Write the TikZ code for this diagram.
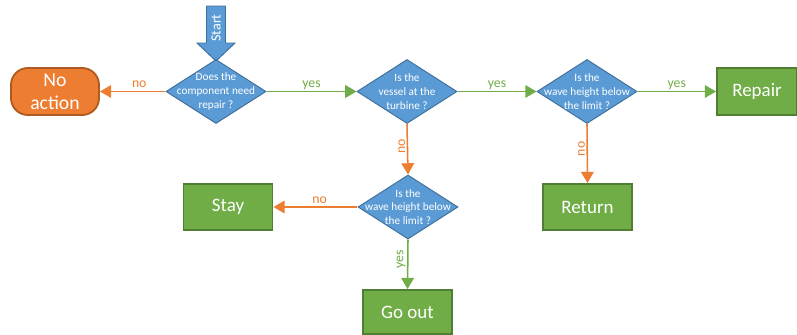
\documentclass[tikz,border=0pt]{standalone}
\usepackage{fontspec}
\setmainfont{Carlito}
\usetikzlibrary{shapes.geometric,arrows.meta}
\definecolor{qblue}{HTML}{5B9BD5}
\definecolor{qblueline}{HTML}{41719C}
\definecolor{okgreen}{HTML}{70AD47}
\definecolor{okgreenline}{HTML}{507E32}
\definecolor{noorange}{HTML}{ED7D31}
\definecolor{noorangeline}{HTML}{AE5A21}

\begin{document}
\begin{tikzpicture}[x=0.025cm, y=-0.025cm,
    decision/.style = {diamond, draw=qblueline, fill=qblue, line width=0.7pt, minimum width=2.5cm, minimum height=1.6cm, inner sep=0pt},
    qtext/.style = {text=white, align=center, font=\fontsize{8}{9.8}\selectfont},
    action/.style = {draw=okgreenline, fill=okgreen, line width=1.3pt, minimum width=2.225cm, minimum height=1.15cm, text=white, font=\fontsize{13.5}{15}\selectfont},
    yesline/.style = {draw=okgreen, line width=1.1pt, -{Triangle[length=8pt,width=9pt]}},
    noline/.style = {draw=noorange, line width=1.1pt, -{Triangle[length=8pt,width=9pt]}},
    yeslabel/.style = {text=okgreen, font=\fontsize{9.8}{11}\selectfont, inner sep=1pt},
    nolabel/.style = {text=noorange, font=\fontsize{9.8}{11}\selectfont, inner sep=1pt}]
    \useasboundingbox (0,0) rectangle (797,335);
    % Start arrow
    \filldraw[draw=qblueline, fill=qblue, line width=0.7pt] (206.5,6) -- (225.5,6) -- (225.5,43) -- (235,43) -- (216,61) -- (197,43) -- (206.5,43) -- cycle;
    \node[qtext, rotate=90, font=\fontsize{10}{11}\selectfont] (start) at (216,28) {Start};
    % Nodes
    \node[decision, label={[qtext]center:Does the\\component need\\repair ?}] (need) at (216,91.5) {};
    \node[decision, label={[qtext]center:Is the\\vessel at the\\turbine ?}] (vessel) at (407,91.5) {};
    \node[decision, label={[qtext]center:Is the\\wave height below\\the limit ?}] (waveat) at (587,91.5) {};
    \node[decision, label={[qtext]center:Is the\\wave height below\\the limit ?}] (waveport) at (408,207) {};
    \node[action, draw=noorangeline, fill=noorange, rounded corners=12pt, minimum width=2.2cm, minimum height=1.175cm, align=center, font=\fontsize{14}{16.5}\selectfont] (noaction) at (55,91.5) {No\\action};
    \node[action, minimum width=2cm, minimum height=1.175cm] (repair) at (757,91.5) {Repair};
    \node[action] (return) at (587.5,207) {Return};
    \node[action] (stay) at (228,207) {Stay};
    \node[action, minimum height=1.1cm] (goout) at (407.5,312) {Go out};
    % Edges
    \draw[noline] (need.west) -- node[nolabel, pos=0.4, above=1pt] {no} (noaction.east);
    \draw[yesline] (need.east) -- node[yeslabel, midway, above] {yes} (vessel.west);
    \draw[yesline] (vessel.east) -- node[yeslabel, midway, above] {yes} (waveat.west);
    \draw[yesline] (waveat.east) -- node[yeslabel, midway, above] {yes} (repair.west);
    \draw[noline] (vessel.south) -- node[nolabel, pos=0.45, rotate=90, anchor=south] {no} (waveport.north);
    \draw[noline] (waveat.south) -- node[nolabel, pos=0.42, rotate=90, anchor=south] {no} (return.north);
    \draw[noline] (waveport.west) -- node[nolabel, pos=0.45, above=1pt] {no} (stay.east);
    \draw[yesline] (waveport.south) -- node[yeslabel, pos=0.4, rotate=90, anchor=south] {yes} (goout.north);
\end{tikzpicture}
\end{document}
